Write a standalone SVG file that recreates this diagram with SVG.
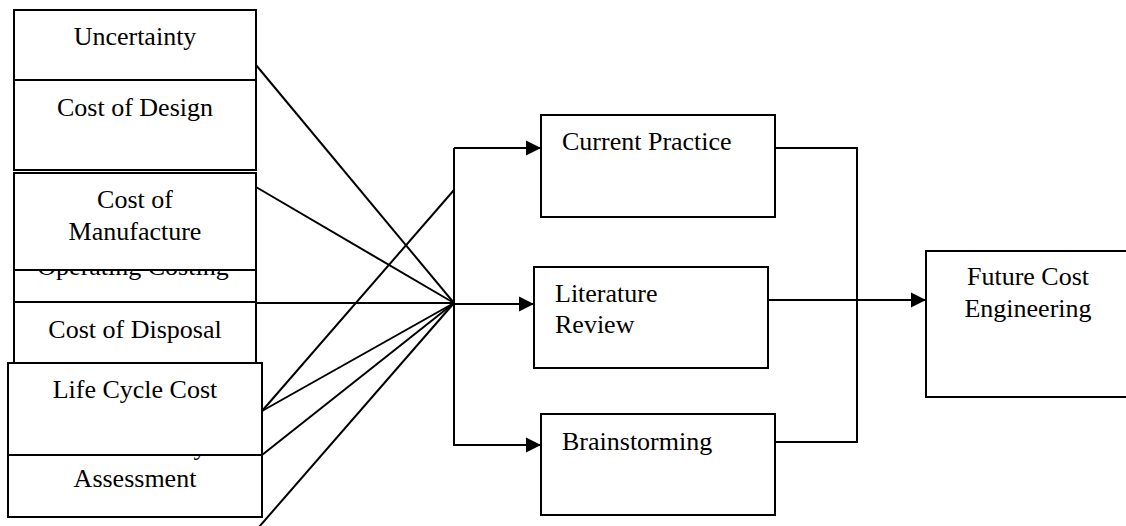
<svg xmlns="http://www.w3.org/2000/svg" width="1126" height="526" viewBox="0 0 1126 526">
<style>
.box{fill:#fff;stroke:#000;stroke-width:2}
text{font-size:26px;fill:#000}
.c{text-anchor:middle}
.ln{fill:none;stroke:#000;stroke-width:2}
</style>
<defs>
<marker id="ah" markerUnits="userSpaceOnUse" markerWidth="16" markerHeight="16" refX="15" refY="8" orient="auto">
<path d="M0,0.5 L15,8 L0,15.5 Z" fill="#000"/>
</marker>
</defs>
<rect width="1126" height="526" fill="#fff"/>
<g font-family="Liberation Serif, Times New Roman, serif">
<g id="n-uncertainty"><rect class="box" x="14" y="10" width="242" height="70"/><text class="c" x="135" y="45">Uncertainty</text></g>
<g id="n-design"><rect class="box" x="14" y="80" width="242" height="90"/><text class="c" x="135" y="116">Cost of Design</text></g>
<g id="n-operating"><rect class="box" x="14" y="232" width="242" height="70"/><text class="c" x="133" y="275">Operating Costing</text></g>
<g id="n-manufacture"><rect class="box" x="14" y="173" width="242" height="97"/><text class="c" x="135" y="208">Cost of</text><text class="c" x="135" y="240">Manufacture</text></g>
<g id="n-disposal"><rect class="box" x="14" y="302" width="242" height="61"/><text class="c" x="135" y="338">Cost of Disposal</text></g>
<g id="n-assessment"><rect class="box" x="8" y="420" width="254" height="97"/><text class="c" x="135" y="455">Sustainability</text><text class="c" x="135" y="487">Assessment</text></g>
<g id="n-lcc"><rect class="box" x="8" y="363" width="254" height="92"/><text class="c" x="135" y="398">Life Cycle Cost</text></g>
<g id="n-current"><rect class="box" x="541" y="115" width="234" height="102"/><text x="562" y="150">Current Practice</text></g>
<g id="n-literature"><rect class="box" x="534" y="267" width="234" height="101"/><text x="555" y="302">Literature</text><text x="555" y="333">Review</text></g>
<g id="n-brainstorming"><rect class="box" x="541" y="414" width="234" height="101"/><text x="562" y="450">Brainstorming</text></g>
<g id="n-future"><rect class="box" x="926" y="251" width="210" height="146"/><text class="c" x="1028" y="285">Future Cost</text><text class="c" x="1028" y="317">Engineering</text></g>
</g>
<g id="connectors">
<line class="ln" x1="256" y1="65" x2="454" y2="303"/>
<line class="ln" x1="256" y1="187" x2="454" y2="303"/>
<line class="ln" x1="256" y1="303" x2="454" y2="303"/>
<line class="ln" x1="262" y1="411" x2="454" y2="190"/>
<line class="ln" x1="262" y1="411" x2="454" y2="303"/>
<line class="ln" x1="262" y1="455" x2="454" y2="303"/>
<line class="ln" x1="259" y1="527" x2="454" y2="303"/>
<polyline class="ln" points="454,148 454,445 541,445" marker-end="url(#ah)"/>
<line class="ln" x1="454" y1="148" x2="541" y2="148" marker-end="url(#ah)"/>
<line class="ln" x1="454" y1="304" x2="534" y2="304" marker-end="url(#ah)"/>
<polyline class="ln" points="775,148 857,148 857,442 775,442"/>
<line class="ln" x1="768" y1="300" x2="926" y2="300" marker-end="url(#ah)"/>
</g>
</svg>
